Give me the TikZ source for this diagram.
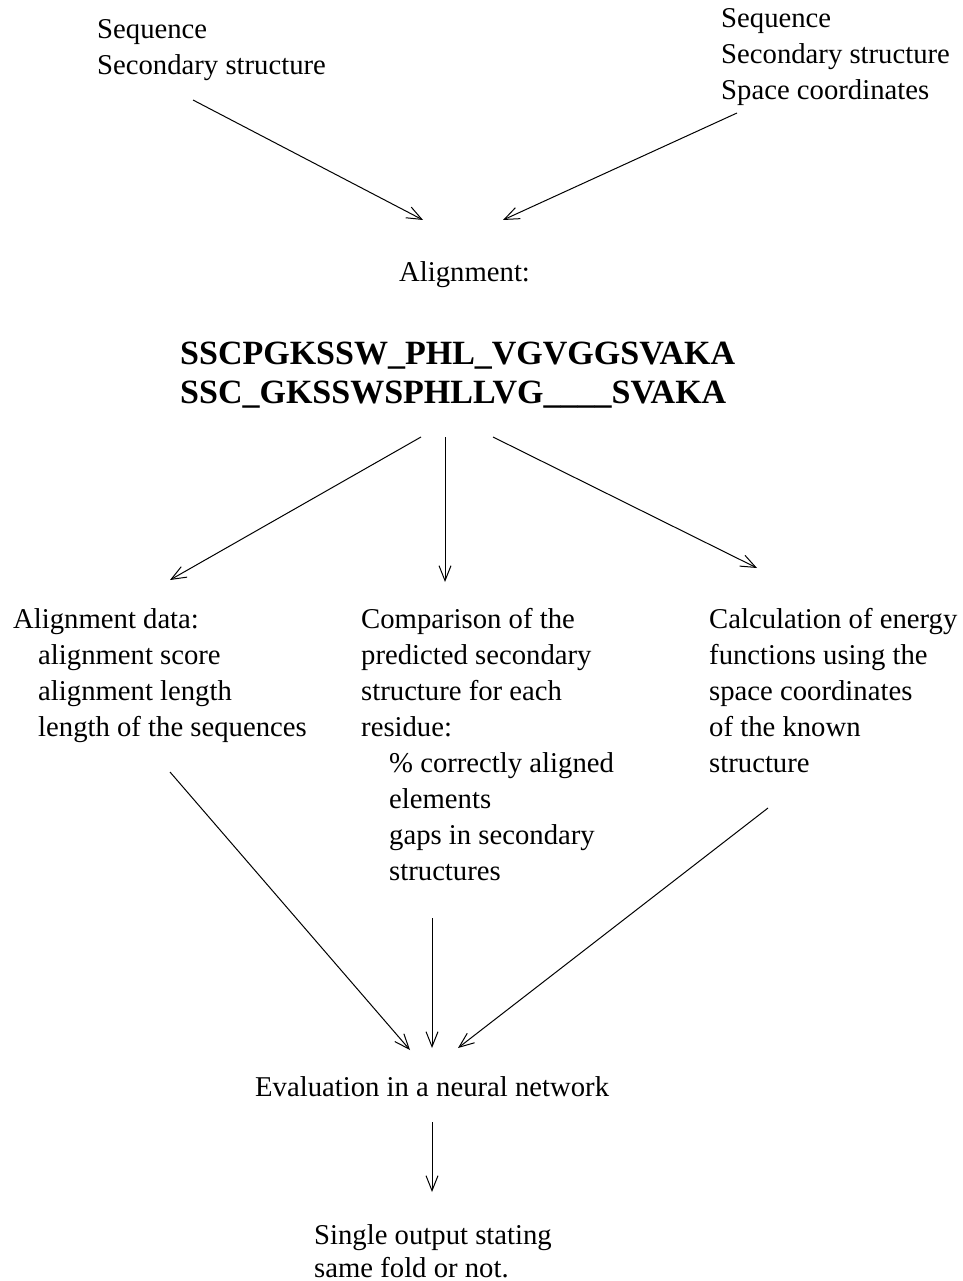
\documentclass[tikz,border=0pt]{standalone}
\usepackage{fontspec}
\setmainfont{Liberation Serif}
\usetikzlibrary{arrows.meta}
\begin{document}
\begin{tikzpicture}[x=1pt,y=-1pt,
  txt/.style={anchor=base west,inner sep=0pt,font=\fontsize{28.7}{36}\selectfont},
  seq/.style={anchor=base west,inner sep=0pt,font=\fontsize{34}{40}\selectfont\bfseries},
  arr/.style={line width=1pt,-{Straight Barb[length=15pt,width=12pt,line width=1pt]}}]
\useasboundingbox (0,0) rectangle (962,1281);
% top left
\node[txt] (tl1) at (97,39) {Sequence};
\node[txt] (tl2) at (97,75) {Secondary structure};
% top right
\node[txt] (tr1) at (721,28) {Sequence};
\node[txt] (tr2) at (721,64) {Secondary structure};
\node[txt] (tr3) at (721,100) {Space coordinates};
% alignment
\node[txt] (al) at (399,281) {Alignment:};
\node[seq] (s1) at (180,364) {SSCPGKSSW\_PHL\_VGVGGSVAKA};
\node[seq] (s2) at (180,403) {SSC\_GKSSWSPHLLVG\_\_\_\_SVAKA};
% left column
\node[txt] (l1) at (13,628) {Alignment data:};
\node[txt] (l2) at (38,664) {alignment score};
\node[txt] (l3) at (38,700) {alignment length};
\node[txt] (l4) at (38,736) {length of the sequences};
% middle column
\node[txt] (m1) at (361,628) {Comparison of the};
\node[txt] (m2) at (361,664) {predicted secondary};
\node[txt] (m3) at (361,700) {structure for each};
\node[txt] (m4) at (361,736) {residue:};
\node[txt] (m5) at (389,772) {\% correctly aligned};
\node[txt] (m6) at (389,808) {elements};
\node[txt] (m7) at (389,844) {gaps in secondary};
\node[txt] (m8) at (389,880) {structures};
% right column
\node[txt] (r1) at (709,628) {Calculation of energy};
\node[txt] (r2) at (709,664) {functions using the};
\node[txt] (r3) at (709,700) {space coordinates};
\node[txt] (r4) at (709,736) {of the known};
\node[txt] (r5) at (709,772) {structure};
% evaluation
\node[txt] (ev) at (255,1096) {Evaluation in a neural network};
\node[txt] (o1) at (314,1244) {Single output stating};
\node[txt] (o2) at (314,1277) {same fold or not.};
% arrow end points
\coordinate (a1s) at (193,100); \coordinate (a1e) at (423,220);
\coordinate (a2s) at (737,113); \coordinate (a2e) at (503,220);
\coordinate (b1s) at (421,437); \coordinate (b1e) at (170,580);
\coordinate (b2s) at (445,437); \coordinate (b2e) at (445,582);
\coordinate (b3s) at (493,437); \coordinate (b3e) at (757,568);
\coordinate (c1s) at (170,772); \coordinate (c1e) at (410,1050);
\coordinate (c2s) at (432,918); \coordinate (c2e) at (432,1048);
\coordinate (c3s) at (768,808); \coordinate (c3e) at (458,1048);
\coordinate (ds) at (432,1122); \coordinate (de) at (432,1192);
\draw[arr] (a1s) -- (a1e);
\draw[arr] (a2s) -- (a2e);
\draw[arr] (b1s) -- (b1e);
\draw[arr] (b2s) -- (b2e);
\draw[arr] (b3s) -- (b3e);
\draw[arr] (c1s) -- (c1e);
\draw[arr] (c2s) -- (c2e);
\draw[arr] (c3s) -- (c3e);
\draw[arr] (ds) -- (de);
\end{tikzpicture}
\end{document}
